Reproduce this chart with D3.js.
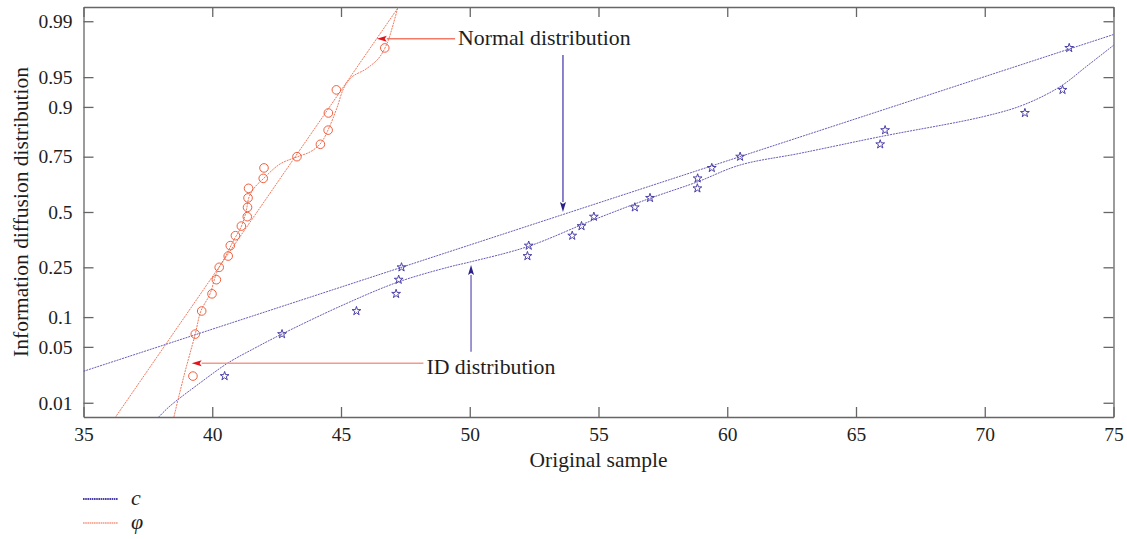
<!DOCTYPE html>
<html>
<head>
<meta charset="utf-8">
<script src="https://cdn.jsdelivr.net/npm/d3@7"></script>
<style>
  body { margin: 0; background: #fff; }
  text { font-family: "Liberation Serif", "DejaVu Serif", serif; fill: #1e1e1e; }
</style>
</head>
<body>
<svg id="chart" width="1127" height="539"></svg>
<script>
// ---- data ----
const probTicks = [0.01, 0.05, 0.1, 0.25, 0.5, 0.75, 0.9, 0.95, 0.99];
const probTickLabels = ["0.01", "0.05", "0.1", "0.25", "0.5", "0.75", "0.9", "0.95", "0.99"];
const sampleTicks = [35, 40, 45, 50, 55, 60, 65, 70, 75];

// cumulative plotting positions shared by both samples
const plotPositions = [0.0227, 0.0682, 0.1136, 0.1591, 0.2045, 0.25, 0.2955, 0.3409, 0.3864, 0.4318, 0.4773,
                       0.5227, 0.5682, 0.6136, 0.6591, 0.7045, 0.75, 0.7955, 0.8409, 0.8864, 0.9318, 0.9773];

// ordered samples
const phiSample = [39.25, 39.34, 39.59, 39.99, 40.16, 40.27, 40.62, 40.70, 40.90, 41.13, 41.36,
                   41.37, 41.39, 41.41, 41.98, 42.01, 43.29, 44.20, 44.50, 44.51, 44.82, 46.70];
const cSample = [40.48, 42.71, 45.60, 47.14, 47.24, 47.35, 52.24, 52.29, 53.98, 54.34, 54.82,
                 56.41, 57.00, 58.84, 58.85, 59.40, 60.50, 65.94, 66.13, 71.56, 73.02, 73.28];

// fitted normal distributions (mean, standard deviation)
const phiFit = [41.74, 2.198];
const cFit = [53.92, 9.74];

// smoothed empirical distribution curves
const phiCurveX = [38.51, 38.90, 39.33, 39.56, 39.91, 40.18, 40.50, 40.84, 41.12, 41.31, 41.43, 41.66, 41.97,
                   42.63, 43.29, 43.83, 44.22, 44.53, 44.84, 45.11, 45.42, 45.97, 46.47, 46.78, 47.02, 47.21];
const phiCurveP = [0.0062, 0.0228, 0.0668, 0.1137, 0.1587, 0.232, 0.2915, 0.3665, 0.4274, 0.5, 0.5726, 0.6198, 0.656,
                   0.7208, 0.749, 0.7697, 0.7999, 0.847, 0.8976, 0.9348, 0.9501, 0.9594, 0.9698, 0.9798, 0.9887, 0.9938];
const cCurveX = [37.92, 38.36, 39.52, 40.61, 41.66, 42.71, 45.08, 47.22, 49.24, 50.01, 52.26, 54.79, 57.00,
                 58.83, 60.50, 62.83, 65.93, 69.93, 71.49, 72.92, 73.97, 75.02];
const cCurveP = [0.0062, 0.0090, 0.0185, 0.0328, 0.0486, 0.0684, 0.1284, 0.1966, 0.2524, 0.271, 0.3369, 0.461, 0.5663,
                 0.6428, 0.7167, 0.763, 0.8207, 0.8774, 0.904, 0.9367, 0.9625, 0.9792];

// annotation anchors: [x tail, p tail, x tip, p tip]
const normalArrow = [49.43, 0.9827, 46.39, 0.9827];
const normalDownArrow = [53.62, 0.9722, 53.62, 0.5];
const idArrow = [48.20, 0.0325, 39.20, 0.0325];
const idUpArrow = [50.05, 0.0442, 50.05, 0.259];

// ---- helpers ----
// inverse standard normal CDF (Acklam's rational approximation)
function probit(p) {
  const a = [-3.969683028665376e+01, 2.209460984245205e+02, -2.759285104469687e+02, 1.383577518672690e+02, -3.066479806614716e+01, 2.506628277459239e+00];
  const b = [-5.447609879822406e+01, 1.615858368580409e+02, -1.556989798598866e+02, 6.680131188771972e+01, -1.328068155288572e+01];
  const c = [-7.784894002430293e-03, -3.223964580411365e-01, -2.400758277161838e+00, -2.549732539343734e+00, 4.374664141464968e+00, 2.938163982698783e+00];
  const d = [7.784695709041462e-03, 3.224671290700398e-01, 2.445134137142996e+00, 3.754408661907416e+00];
  const pl = 0.02425;
  let q, r;
  if (p < pl) {
    q = Math.sqrt(-2 * Math.log(p));
    return (((((c[0]*q+c[1])*q+c[2])*q+c[3])*q+c[4])*q+c[5]) / ((((d[0]*q+d[1])*q+d[2])*q+d[3])*q+1);
  } else if (p <= 1 - pl) {
    q = p - 0.5; r = q * q;
    return (((((a[0]*r+a[1])*r+a[2])*r+a[3])*r+a[4])*r+a[5])*q / (((((b[0]*r+b[1])*r+b[2])*r+b[3])*r+b[4])*r+1);
  } else {
    q = Math.sqrt(-2 * Math.log(1 - p));
    return -(((((c[0]*q+c[1])*q+c[2])*q+c[3])*q+c[4])*q+c[5]) / ((((d[0]*q+d[1])*q+d[2])*q+d[3])*q+1);
  }
}

const BLUE = "#4b3fa8", RED = "#f0603f";
const plot = { left: 83.5, right: 1113.5, top: 7, bottom: 417 };

const svg = d3.select("#chart");
const x = d3.scaleLinear().domain([35, 75]).range([plot.left, plot.right]);
const yz = d3.scaleLinear().domain([-2.5, 2.5]).range([plot.bottom, plot.top]);
const yP = p => yz(probit(p));

svg.append("defs").append("clipPath").attr("id", "plotClip")
  .append("rect")
  .attr("x", plot.left).attr("y", plot.top)
  .attr("width", plot.right - plot.left).attr("height", plot.bottom - plot.top);

// ---- axes ----
const tickZ = probTicks.map(probit);
const axisColor = "#666";

const leftAxis = d3.axisLeft(yz).tickValues(tickZ)
  .tickFormat((d, i) => probTickLabels[i]).tickSizeInner(-10).tickSizeOuter(0).tickPadding(11);
const rightAxis = d3.axisRight(yz).tickValues(tickZ).tickFormat("").tickSizeInner(-10).tickSizeOuter(0);
const bottomAxis = d3.axisBottom(x).tickValues(sampleTicks).tickFormat(d3.format("d"))
  .tickSizeInner(-10).tickSizeOuter(0).tickPadding(10);
const topAxis = d3.axisTop(x).tickValues(sampleTicks).tickFormat("").tickSizeInner(-10).tickSizeOuter(0);

function styleAxis(g) {
  g.select(".domain").attr("stroke", axisColor).attr("stroke-width", 1.3);
  g.selectAll(".tick line").attr("stroke", axisColor).attr("stroke-width", 1.3);
  g.selectAll(".tick text").attr("font-family", "Liberation Serif").attr("font-size", 19.5).attr("fill", "#1e1e1e");
}
svg.append("g").attr("transform", `translate(${plot.left},0)`).call(leftAxis).call(styleAxis);
svg.append("g").attr("transform", `translate(${plot.right},0)`).call(rightAxis).call(styleAxis);
svg.append("g").attr("transform", `translate(0,${plot.bottom})`).call(bottomAxis).call(styleAxis);
svg.append("g").attr("transform", `translate(0,${plot.top})`).call(topAxis).call(styleAxis);

// axis titles
svg.append("text")
  .attr("transform", `translate(28,${(plot.top + plot.bottom) / 2}) rotate(-90)`)
  .attr("text-anchor", "middle").attr("font-size", 21.5)
  .text("Information diffusion distribution");
svg.append("text")
  .attr("x", (plot.left + plot.right) / 2).attr("y", 467)
  .attr("text-anchor", "middle").attr("font-size", 21.5)
  .text("Original sample");

// ---- data layer ----
const layer = svg.append("g").attr("clip-path", "url(#plotClip)");
const dash = "2,0.9";

// fitted normal lines
const fitLine = (fit, zRange) => zRange.map(z => [x(fit[0] + fit[1] * z), yz(z)]);
layer.append("path")
  .attr("d", d3.line()(fitLine(cFit, [(35 - cFit[0]) / cFit[1], (75.5 - cFit[0]) / cFit[1]])))
  .attr("fill", "none").attr("stroke", BLUE).attr("stroke-width", 1).attr("stroke-dasharray", dash).attr("opacity", 0.85);
layer.append("path")
  .attr("d", d3.line()(fitLine(phiFit, [-2.6, 2.6])))
  .attr("fill", "none").attr("stroke", RED).attr("stroke-width", 1).attr("stroke-dasharray", dash).attr("opacity", 0.85);

// smoothed curves
const smooth = d3.line().curve(d3.curveCatmullRom.alpha(0.5));
layer.append("path")
  .attr("d", smooth(cCurveX.map((v, i) => [x(v), yP(cCurveP[i])])))
  .attr("fill", "none").attr("stroke", BLUE).attr("stroke-width", 1).attr("stroke-dasharray", dash).attr("opacity", 0.85);
layer.append("path")
  .attr("d", smooth(phiCurveX.map((v, i) => [x(v), yP(phiCurveP[i])])))
  .attr("fill", "none").attr("stroke", RED).attr("stroke-width", 1).attr("stroke-dasharray", dash).attr("opacity", 0.85);

// sample markers
const star = d3.symbol().type(d3.symbolStar).size(24);
layer.selectAll("path.cpt").data(cSample).join("path")
  .attr("class", "cpt")
  .attr("transform", (d, i) => `translate(${x(d)},${yP(plotPositions[i])})`)
  .attr("d", star).attr("fill", "none").attr("stroke", BLUE).attr("stroke-width", 1);
layer.selectAll("circle.ppt").data(phiSample).join("circle")
  .attr("class", "ppt")
  .attr("cx", d => x(d)).attr("cy", (d, i) => yP(plotPositions[i]))
  .attr("r", 4.3).attr("fill", "none").attr("stroke", RED).attr("stroke-width", 1);

// ---- annotations ----
function arrow(a, lineColor, headColor) {
  const x1 = x(a[0]), y1 = yP(a[1]), x2 = x(a[2]), y2 = yP(a[3]);
  const len = Math.hypot(x2 - x1, y2 - y1), ux = (x2 - x1) / len, uy = (y2 - y1) / len;
  const hl = 10, hw = 3;
  const bx = x2 - ux * hl, by = y2 - uy * hl;
  svg.append("line").attr("x1", x1).attr("y1", y1).attr("x2", bx).attr("y2", by)
    .attr("stroke", lineColor).attr("stroke-width", 1.4);
  svg.append("path")
    .attr("d", `M${x2},${y2}L${bx - uy * hw},${by + ux * hw}L${bx + ux * 2},${by + uy * 2}L${bx + uy * hw},${by - ux * hw}Z`)
    .attr("fill", headColor);
}
arrow(normalArrow, "#f27a66", "#e3141c");
arrow(normalDownArrow, "#5a4fb5", "#2c2188");
arrow(idArrow, "#f59a8a", "#e3141c");
arrow(idUpArrow, "#7468c2", "#2c2188");

svg.append("text")
  .attr("x", x(normalArrow[0]) + 3).attr("y", yP(normalArrow[1]) + 6)
  .attr("font-size", 21.8).text("Normal distribution");
svg.append("text")
  .attr("x", x(idArrow[0]) + 3).attr("y", yP(idArrow[1]) + 11)
  .attr("font-size", 21.8).text("ID distribution");

// ---- legend ----
const legendItems = [["c", BLUE, 2.2, 499], ["φ", RED, 1.2, 523]];
legendItems.forEach(([label, color, w, ly]) => {
  svg.append("line").attr("x1", 83).attr("x2", 118).attr("y1", ly).attr("y2", ly)
    .attr("stroke", color).attr("stroke-width", w).attr("stroke-dasharray", "1.6,0.6");
  svg.append("text").attr("x", 131).attr("y", ly + 6)
    .attr("font-size", 22).attr("font-style", "italic").text(label);
});
</script>
</body>
</html>
